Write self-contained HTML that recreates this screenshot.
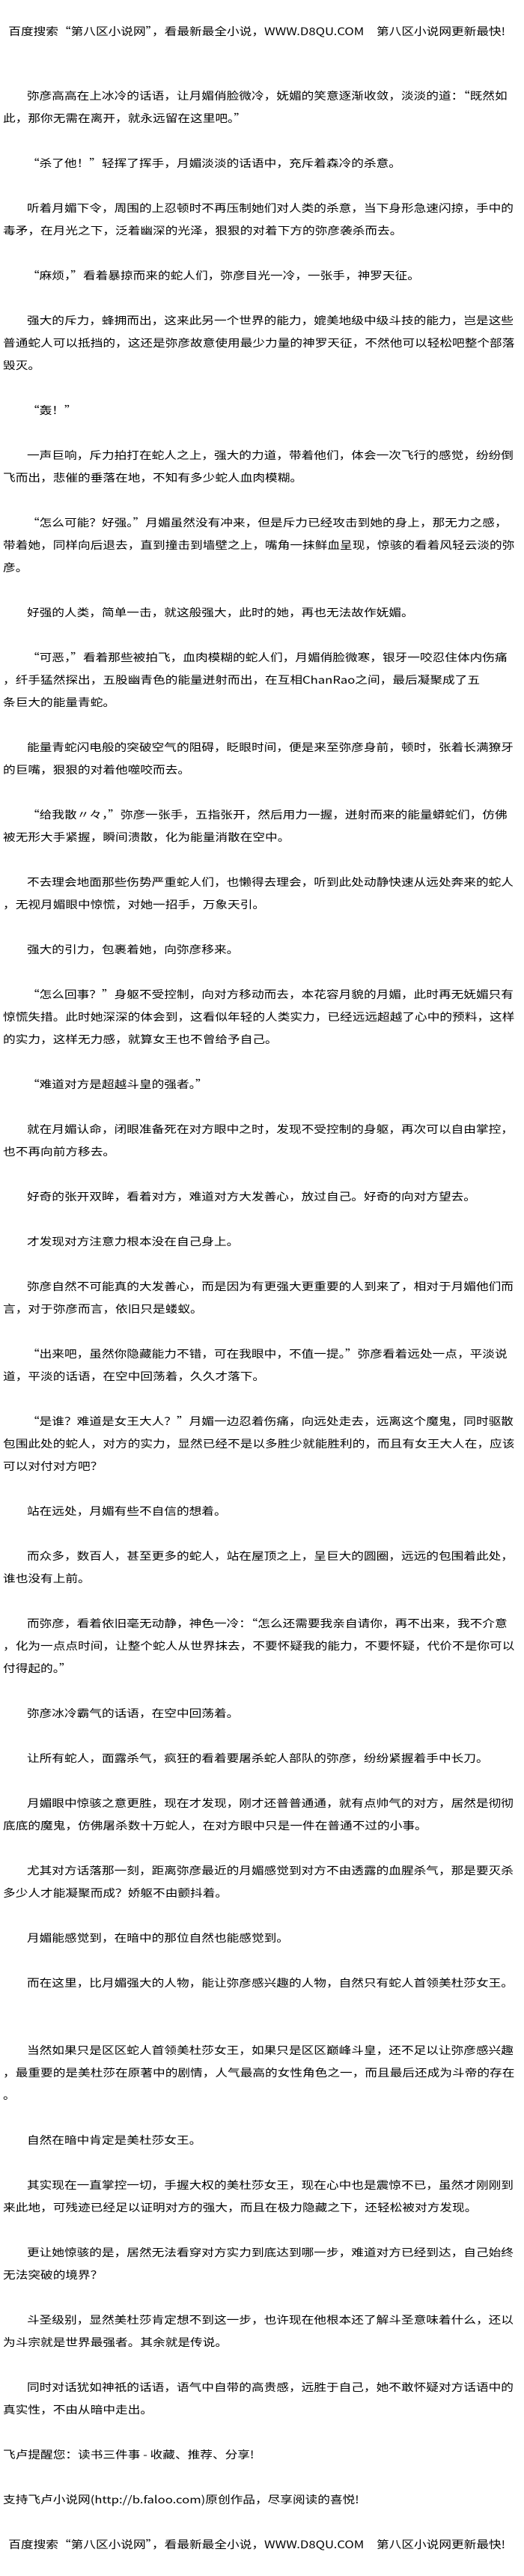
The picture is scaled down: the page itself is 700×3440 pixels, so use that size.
<!DOCTYPE html>
<html><head><meta charset="utf-8">
<style>
html,body{margin:0;padding:0;background:#fff;}
body{width:700px;height:3440px;position:relative;overflow:hidden;}
.w{position:absolute;left:0;top:0;width:588px;height:3440px;transform:scaleX(1.1905);transform-origin:0 0;
font-family:"WenQuanYi Zen Hei","Noto Sans CJK SC","Liberation Sans",sans-serif;font-size:14px;color:#000;}
.w div{position:absolute;left:3.4px;height:30px;line-height:30px;white-space:nowrap;}
.w div.i{left:30.2px;}
.w div.h{left:9.5px;}
</style></head><body><div class="w">
<div class="h" style="top:27px">百度搜索“第八区小说网”，看最新最全小说，WWW.D8QU.COM　第八区小说网更新最快!</div>
<div class="i" style="top:113px">弥彦高高在上冰冷的话语，让月媚俏脸微冷，妩媚的笑意逐渐收敛，淡淡的道：“既然如</div>
<div style="top:143px">此，那你无需在离开，就永远留在这里吧。”</div>
<div class="i" style="top:203px">“杀了他！”轻挥了挥手，月媚淡淡的话语中，充斥着森冷的杀意。</div>
<div class="i" style="top:263px">听着月媚下令，周围的上忍顿时不再压制她们对人类的杀意，当下身形急速闪掠，手中的</div>
<div style="top:293px">毒矛，在月光之下，泛着幽深的光泽，狠狠的对着下方的弥彦袭杀而去。</div>
<div class="i" style="top:353px">“麻烦，”看着暴掠而来的蛇人们，弥彦目光一冷，一张手，神罗天征。</div>
<div class="i" style="top:413px">强大的斥力，蜂拥而出，这来此另一个世界的能力，媲美地级中级斗技的能力，岂是这些</div>
<div style="top:443px">普通蛇人可以抵挡的，这还是弥彦故意使用最少力量的神罗天征，不然他可以轻松吧整个部落</div>
<div style="top:473px">毁灭。</div>
<div class="i" style="top:533px">“轰！”</div>
<div class="i" style="top:593px">一声巨响，斥力拍打在蛇人之上，强大的力道，带着他们，体会一次飞行的感觉，纷纷倒</div>
<div style="top:623px">飞而出，悲催的垂落在地，不知有多少蛇人血肉模糊。</div>
<div class="i" style="top:683px">“怎么可能？好强。”月媚虽然没有冲来，但是斥力已经攻击到她的身上，那无力之感，</div>
<div style="top:713px">带着她，同样向后退去，直到撞击到墙壁之上，嘴角一抹鲜血呈现，惊骇的看着风轻云淡的弥</div>
<div style="top:743px">彦。</div>
<div class="i" style="top:803px">好强的人类，简单一击，就这般强大，此时的她，再也无法故作妩媚。</div>
<div class="i" style="top:863px">“可恶，”看着那些被拍飞，血肉模糊的蛇人们，月媚俏脸微寒，银牙一咬忍住体内伤痛</div>
<div style="top:893px">，纤手猛然探出，五股幽青色的能量迸射而出，在互相ChanRao之间，最后凝聚成了五</div>
<div style="top:923px">条巨大的能量青蛇。</div>
<div class="i" style="top:983px">能量青蛇闪电般的突破空气的阻碍，眨眼时间，便是来至弥彦身前，顿时，张着长满獠牙</div>
<div style="top:1013px">的巨嘴，狠狠的对着他噬咬而去。</div>
<div class="i" style="top:1073px">“给我散〃々，”弥彦一张手，五指张开，然后用力一握，迸射而来的能量蟒蛇们，仿佛</div>
<div style="top:1103px">被无形大手紧握，瞬间溃散，化为能量消散在空中。</div>
<div class="i" style="top:1163px">不去理会地面那些伤势严重蛇人们，也懒得去理会，听到此处动静快速从远处奔来的蛇人</div>
<div style="top:1193px">，无视月媚眼中惊慌，对她一招手，万象天引。</div>
<div class="i" style="top:1253px">强大的引力，包裹着她，向弥彦移来。</div>
<div class="i" style="top:1313px">“怎么回事？”身躯不受控制，向对方移动而去，本花容月貌的月媚，此时再无妩媚只有</div>
<div style="top:1343px">惊慌失措。此时她深深的体会到，这看似年轻的人类实力，已经远远超越了心中的预料，这样</div>
<div style="top:1373px">的实力，这样无力感，就算女王也不曾给予自己。</div>
<div class="i" style="top:1433px">“难道对方是超越斗皇的强者。”</div>
<div class="i" style="top:1493px">就在月媚认命，闭眼准备死在对方眼中之时，发现不受控制的身躯，再次可以自由掌控，</div>
<div style="top:1523px">也不再向前方移去。</div>
<div class="i" style="top:1583px">好奇的张开双眸，看着对方，难道对方大发善心，放过自己。好奇的向对方望去。</div>
<div class="i" style="top:1643px">才发现对方注意力根本没在自己身上。</div>
<div class="i" style="top:1703px">弥彦自然不可能真的大发善心，而是因为有更强大更重要的人到来了，相对于月媚他们而</div>
<div style="top:1733px">言，对于弥彦而言，依旧只是蝼蚁。</div>
<div class="i" style="top:1793px">“出来吧，虽然你隐藏能力不错，可在我眼中，不值一提。”弥彦看着远处一点，平淡说</div>
<div style="top:1823px">道，平淡的话语，在空中回荡着，久久才落下。</div>
<div class="i" style="top:1883px">“是谁？难道是女王大人？”月媚一边忍着伤痛，向远处走去，远离这个魔鬼，同时驱散</div>
<div style="top:1913px">包围此处的蛇人，对方的实力，显然已经不是以多胜少就能胜利的，而且有女王大人在，应该</div>
<div style="top:1943px">可以对付对方吧？</div>
<div class="i" style="top:2003px">站在远处，月媚有些不自信的想着。</div>
<div class="i" style="top:2063px">而众多，数百人，甚至更多的蛇人，站在屋顶之上，呈巨大的圆圈，远远的包围着此处，</div>
<div style="top:2093px">谁也没有上前。</div>
<div class="i" style="top:2153px">而弥彦，看着依旧毫无动静，神色一冷：“怎么还需要我亲自请你，再不出来，我不介意</div>
<div style="top:2183px">，化为一点点时间，让整个蛇人从世界抹去，不要怀疑我的能力，不要怀疑，代价不是你可以</div>
<div style="top:2213px">付得起的。”</div>
<div class="i" style="top:2273px">弥彦冰冷霸气的话语，在空中回荡着。</div>
<div class="i" style="top:2333px">让所有蛇人，面露杀气，疯狂的看着要屠杀蛇人部队的弥彦，纷纷紧握着手中长刀。</div>
<div class="i" style="top:2393px">月媚眼中惊骇之意更胜，现在才发现，刚才还普普通通，就有点帅气的对方，居然是彻彻</div>
<div style="top:2423px">底底的魔鬼，仿佛屠杀数十万蛇人，在对方眼中只是一件在普通不过的小事。</div>
<div class="i" style="top:2483px">尤其对方话落那一刻，距离弥彦最近的月媚感觉到对方不由透露的血腥杀气，那是要灭杀</div>
<div style="top:2513px">多少人才能凝聚而成？娇躯不由颤抖着。</div>
<div class="i" style="top:2573px">月媚能感觉到，在暗中的那位自然也能感觉到。</div>
<div class="i" style="top:2633px">而在这里，比月媚强大的人物，能让弥彦感兴趣的人物，自然只有蛇人首领美杜莎女王。</div>
<div class="i" style="top:2723px">当然如果只是区区蛇人首领美杜莎女王，如果只是区区巅峰斗皇，还不足以让弥彦感兴趣</div>
<div style="top:2753px">，最重要的是美杜莎在原著中的剧情，人气最高的女性角色之一，而且最后还成为斗帝的存在</div>
<div style="top:2783px">。</div>
<div class="i" style="top:2843px">自然在暗中肯定是美杜莎女王。</div>
<div class="i" style="top:2903px">其实现在一直掌控一切，手握大权的美杜莎女王，现在心中也是震惊不已，虽然才刚刚到</div>
<div style="top:2933px">来此地，可残迹已经足以证明对方的强大，而且在极力隐藏之下，还轻松被对方发现。</div>
<div class="i" style="top:2993px">更让她惊骇的是，居然无法看穿对方实力到底达到哪一步，难道对方已经到达，自己始终</div>
<div style="top:3023px">无法突破的境界？</div>
<div class="i" style="top:3083px">斗圣级别，显然美杜莎肯定想不到这一步，也许现在他根本还了解斗圣意味着什么，还以</div>
<div style="top:3113px">为斗宗就是世界最强者。其余就是传说。</div>
<div class="i" style="top:3173px">同时对话犹如神祇的话语，语气中自带的高贵感，远胜于自己，她不敢怀疑对方话语中的</div>
<div style="top:3203px">真实性，不由从暗中走出。</div>
<div style="top:3263px">飞卢提醒您：读书三件事 - 收藏、推荐、分享!</div>
<div style="top:3323px">支持飞卢小说网(http://b.faloo.com)原创作品，尽享阅读的喜悦!</div>
<div class="h" style="top:3383px">百度搜索“第八区小说网”，看最新最全小说，WWW.D8QU.COM　第八区小说网更新最快!</div>
</div></body></html>
